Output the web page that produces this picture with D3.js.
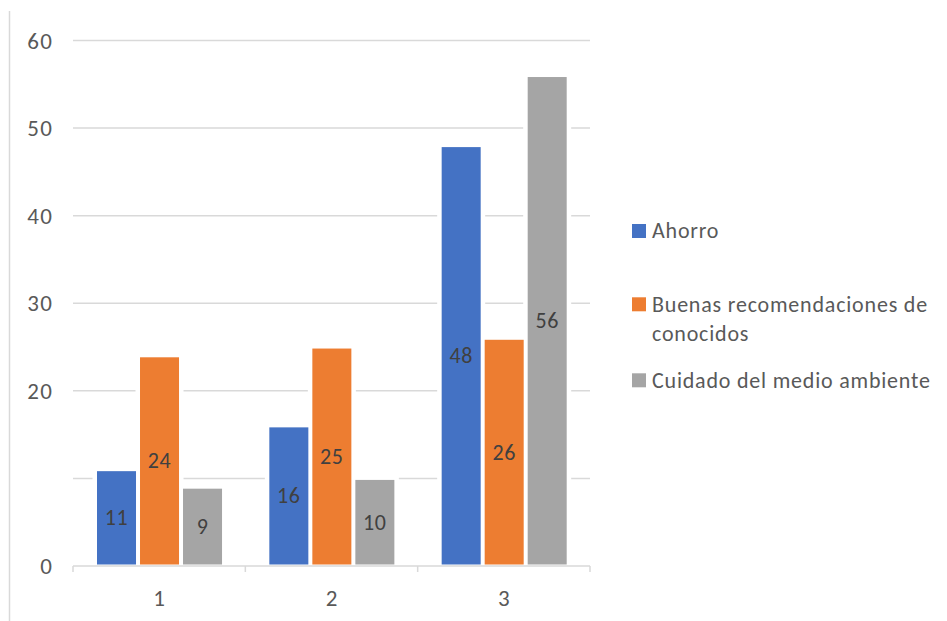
<!DOCTYPE html>
<html>
<head>
<meta charset="utf-8">
<script src="https://cdn.jsdelivr.net/npm/d3@7"></script>
<style>
  html, body { margin: 0; padding: 0; background: #fff; }
  svg { display: block; font-family: Carlito, Lato, "Open Sans", sans-serif; }
</style>
</head>
<body>
<svg id="chart" width="947" height="621"></svg>
<script>
// Categories on the x axis
const categories = ["1", "2", "3"];
// Series names and values per category
const seriesNames = ["Ahorro", "Buenas recomendaciones de conocidos", "Cuidado del medio ambiente"];
const ahorro = [11, 16, 48];
const buenasRecomendaciones = [24, 25, 26];
const cuidadoMedioAmbiente = [9, 10, 56];
const seriesValues = [ahorro, buenasRecomendaciones, cuidadoMedioAmbiente];
const seriesColors = ["#4472C4", "#ED7D31", "#A5A5A5"];
// Legend text, wrapped as shown
const legendLines = [["Ahorro"], ["Buenas recomendaciones de", "conocidos"], ["Cuidado del medio ambiente"]];
// Y axis labels (the 10 label is not shown)
const yTickLabels = [0, 20, 30, 40, 50, 60];
const gridValues = [10, 20, 30, 40, 50, 60];

const svg = d3.select("#chart");

const plot = { left: 73, right: 590, top: 40.5, bottom: 566 };

const x0 = d3.scaleBand().domain(categories).range([plot.left, plot.right]).padding(0);
const x1 = d3.scaleBand().domain(d3.range(seriesNames.length)).range([22, x0.bandwidth() - 21.3]).padding(0);
const y = d3.scaleLinear().domain([0, 60]).range([plot.bottom, plot.top]);

// Outer border on the left
svg.append("line")
  .attr("x1", 9.5).attr("x2", 9.5).attr("y1", 11).attr("y2", 621)
  .attr("stroke", "#d9d9d9").attr("stroke-width", 1.5);

// Horizontal gridlines
svg.append("g").selectAll("line").data(gridValues).join("line")
  .attr("x1", plot.left).attr("x2", plot.right)
  .attr("y1", d => y(d)).attr("y2", d => y(d))
  .attr("stroke", "#d9d9d9").attr("stroke-width", 1.5);

// Y tick labels
svg.append("g").selectAll("text").data(yTickLabels).join("text")
  .attr("x", 53).attr("y", d => y(d) + 8)
  .attr("text-anchor", "end")
  .attr("font-size", 23).attr("letter-spacing", 1.2).attr("fill", "#595959")
  .text(d => d);

// Flattened bar records
const bars = [];
categories.forEach((c, ci) => {
  seriesValues.forEach((vals, si) => {
    bars.push({ cat: c, s: si, v: vals[ci] });
  });
});

const barGroup = svg.append("g");
// White halo behind each bar (breaks the gridlines around the bars)
barGroup.selectAll("rect.halo").data(bars).join("rect")
  .attr("class", "halo")
  .attr("x", d => x0(d.cat) + x1(d.s) - 2.5)
  .attr("width", x1.bandwidth() + 5)
  .attr("y", d => y(d.v) - 3)
  .attr("height", d => y(0) - y(d.v) + 3)
  .attr("fill", "#fff");

barGroup.selectAll("rect.bar").data(bars).join("rect")
  .attr("class", "bar")
  .attr("x", d => x0(d.cat) + x1(d.s) + 2)
  .attr("width", x1.bandwidth() - 4)
  .attr("y", d => y(d.v) + 1.5)
  .attr("height", d => y(0) - y(d.v) - 3)
  .attr("fill", d => seriesColors[d.s]);

// Value labels centred inside bars
barGroup.selectAll("text").data(bars).join("text")
  .attr("x", d => x0(d.cat) + x1(d.s) + x1.bandwidth() / 2)
  .attr("y", d => (y(d.v) + y(0)) / 2 + 7.5)
  .attr("text-anchor", "middle")
  .attr("font-size", 22).attr("letter-spacing", 0.6).attr("fill", "#404040")
  .text(d => d.v);

// X axis line with tick marks at category boundaries
svg.append("line")
  .attr("x1", plot.left).attr("x2", plot.right)
  .attr("y1", plot.bottom).attr("y2", plot.bottom)
  .attr("stroke", "#d9d9d9").attr("stroke-width", 1.5);
const tickXs = categories.map(c => x0(c)).concat([x0(categories[categories.length - 1]) + x0.bandwidth()]);
svg.append("g").selectAll("line").data(tickXs).join("line")
  .attr("x1", d => d).attr("x2", d => d)
  .attr("y1", plot.bottom).attr("y2", plot.bottom + 6)
  .attr("stroke", "#d9d9d9").attr("stroke-width", 1.5);

// X category labels
svg.append("g").selectAll("text").data(categories).join("text")
  .attr("x", d => x0(d) + x0.bandwidth() / 2)
  .attr("y", 605.5)
  .attr("text-anchor", "middle")
  .attr("font-size", 23).attr("fill", "#595959")
  .text(d => d);

// Legend
const legendY = [224, 297.3, 373.3];
const legend = svg.append("g");
legendLines.forEach((lines, i) => {
  legend.append("rect")
    .attr("x", 632).attr("y", legendY[i])
    .attr("width", 14).attr("height", 14)
    .attr("fill", seriesColors[i]);
  const t = legend.append("text")
    .attr("x", 652).attr("y", legendY[i] + 14.3)
    .attr("font-size", 22).attr("letter-spacing", 0.8).attr("fill", "#595959");
  lines.forEach((ln, j) => {
    t.append("tspan").attr("x", 652).attr("dy", j === 0 ? 0 : 29).text(ln);
  });
});
</script>
</body>
</html>
